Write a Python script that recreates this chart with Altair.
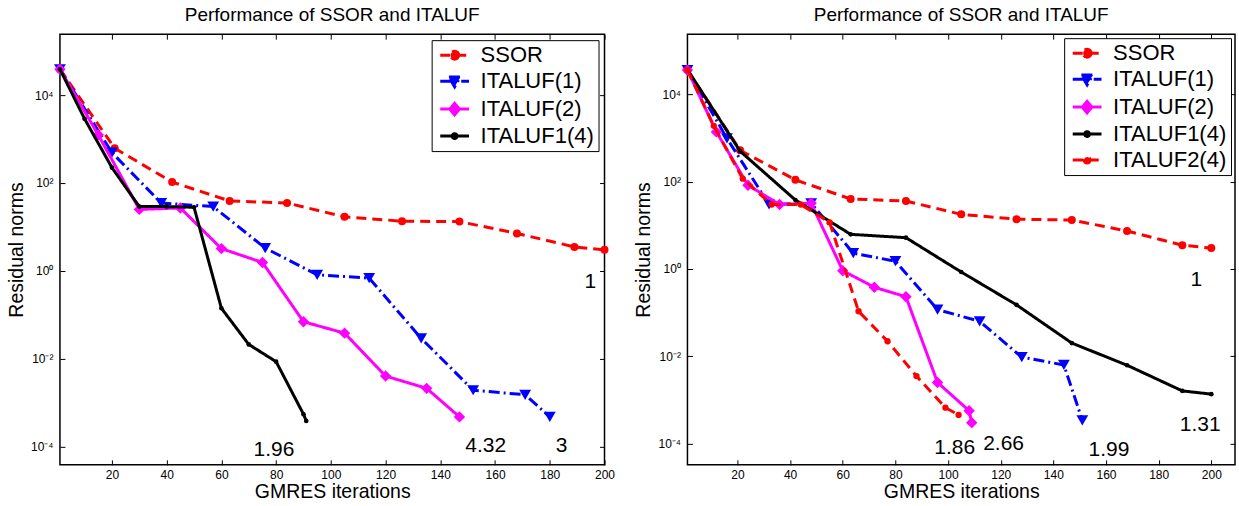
import altair as alt
import pandas as pd

FONT = "Liberation Sans"

# ---------------- data: left panel ----------------
L_names = ["SSOR", "ITALUF(1)", "ITALUF(2)", "ITALUF1(4)"]
L_ssor_x = [1, 21, 42, 63, 84, 105, 126, 147, 168, 189, 200]
L_ssor_y = [3.9e4, 620, 105, 39, 35, 17, 13.5, 13.2, 7.1, 3.5, 3.0]
L_it1_x = [1, 20, 38, 57, 76, 95, 114, 133, 152, 171, 180]
L_it1_y = [3.9e4, 490, 35, 29, 3.3, 0.81, 0.68, 0.029, 0.0019, 0.0015, 4.7e-4]
L_it2_x = [1, 15, 30, 45, 60, 75, 90, 105, 120, 135, 147]
L_it2_y = [3.9e4, 1250, 25, 27, 3.2, 1.55, 0.069, 0.038, 0.0040, 0.0021, 4.7e-4]
L_it14_x = [1, 10, 20, 30, 40, 50, 60, 70, 80, 90, 91]
L_it14_y = [3.9e4, 2900, 224, 29, 29, 28, 0.14, 0.021, 0.0085, 5.4e-4, 3.8e-4]
L_ann_text = ["1", "1.96", "4.32", "3"]
L_ann_x = [194.8, 79.2, 156.6, 184.3]
L_ann_y = [0.56, 8.3e-5, 1.0e-4, 1.0e-4]

# ---------------- data: right panel ----------------
R_names = ["SSOR", "ITALUF(1)", "ITALUF(2)", "ITALUF1(4)", "ITALUF2(4)"]
R_ssor_x = [1, 21, 42, 63, 84, 105, 126, 147, 168, 189, 200]
R_ssor_y = [3.6e4, 525, 110, 40, 36, 17.8, 13.8, 13.2, 7.4, 3.5, 3.0]
R_it1_x = [1, 16, 32, 48, 64, 80, 96, 112, 128, 144, 151]
R_it1_y = [3.6e4, 980, 30, 32, 2.3, 1.5, 0.117, 0.063, 0.0095, 0.0063, 3.4e-4]
R_it2_x = [1, 12, 24, 36, 48, 60, 72, 84, 96, 108, 109]
R_it2_y = [3.6e4, 1380, 83, 30, 32, 0.91, 0.38, 0.23, 0.0025, 5.6e-4, 3.0e-4]
R_it14_x = [1, 21, 42, 63, 84, 105, 126, 147, 168, 189, 200]
R_it14_y = [3.7e4, 500, 38, 6.2, 5.2, 0.85, 0.15, 0.020, 0.0062, 0.0016, 0.00135]
R_it24_x = [1, 11, 22, 33, 44, 55, 66, 77, 88, 99, 104]
R_it24_y = [3.6e4, 1900, 117, 30, 30, 11.7, 0.107, 0.022, 0.0035, 6.6e-4, 4.5e-4]
R_ann_text = ["1", "1.31", "1.99", "2.66", "1.86"]
R_ann_x = [194.3, 195.8, 161.1, 121.1, 102.5]
R_ann_y = [0.56, 2.6e-4, 7.1e-5, 9.5e-5, 7.9e-5]

x_ticks = [20, 40, 60, 80, 100, 120, 140, 160, 180, 200]
y_ticks = [1e-4, 1e-2, 1, 1e2, 1e4]
y_tick_exp = [-4, -2, 0, 2, 4]
y_tick_labels = ["10\u207b\u2074", "10\u207b\u00b2", "10\u2070", "10\u00b2", "10\u2074"]

# ---------------- styles ----------------
COLORS = {"SSOR": "#ff0000", "ITALUF(1)": "#0000ff", "ITALUF(2)": "#ff00ff",
          "ITALUF1(4)": "#000000", "ITALUF2(4)": "#ff0000"}
DASHES = {"SSOR": [10, 6], "ITALUF(1)": [11, 4, 2, 4], "ITALUF(2)": [1, 0],
          "ITALUF1(4)": [1, 0], "ITALUF2(4)": [10, 6]}
SHAPES = {"SSOR": "circle", "ITALUF(1)": "triangle-down", "ITALUF(2)": "diamond",
          "ITALUF1(4)": "circle", "ITALUF2(4)": "circle"}
SIZES = {"SSOR": 64, "ITALUF(1)": 140, "ITALUF(2)": 130, "ITALUF1(4)": 22, "ITALUF2(4)": 40}
LEG_PATHS = {
    "SSOR": "M-2.4,0L2.4,0M0.67,0A0.67,0.67,0,1,1,-0.67,0A0.67,0.67,0,1,1,0.67,0Z",
    "ITALUF(1)": "M-2.4,0L2.4,0M-0.95,-0.7L0.95,-0.7L0,0.95Z",
    "ITALUF(2)": "M-2.4,0L2.4,0M0,-0.95L0.8,0L0,0.95L-0.8,0Z",
    "ITALUF1(4)": "M-2.4,0L2.4,0M0.4,0A0.4,0.4,0,1,1,-0.4,0A0.4,0.4,0,1,1,0.4,0Z",
    "ITALUF2(4)": "M-2.4,0L2.4,0M0.5,0A0.5,0.5,0,1,1,-0.5,0A0.5,0.5,0,1,1,0.5,0Z",
}

ylabel_expr = "''"
for e, lab in zip(y_tick_exp, y_tick_labels):
    ylabel_expr = f"round(log(datum.value)/LN10) == {e} ? '{lab}' : ({ylabel_expr})"


def make_panel(names, xs, ys, x_domain, y_domain, ann_text, ann_x, ann_y, width, height,
               leg_offset):
    rows = []
    for n, xv, yv in zip(names, xs, ys):
        for i, (a, b) in enumerate(zip(xv, yv)):
            rows.append({"series": n, "x": a, "y": b, "order": i})
    df = pd.DataFrame(rows)
    ann = pd.DataFrame({"label": ann_text, "x": ann_x, "y": ann_y})

    xscale = alt.Scale(domain=x_domain, nice=False, zero=False)
    yscale = alt.Scale(type="log", domain=y_domain, nice=False)
    col_scale = alt.Scale(domain=names, range=[COLORS[n] for n in names])
    dash_scale = alt.Scale(domain=names, range=[DASHES[n] for n in names])
    shape_scale = alt.Scale(domain=names, range=[LEG_PATHS[n] for n in names])

    x_bottom = alt.Axis(orient="bottom", values=x_ticks, grid=False, domain=False,
                        tickSize=5, offset=-5, tickColor="black", labelFont=FONT,
                        labelFontSize=12, labelColor="black", labelPadding=5,
                        labelFlush=False, title="GMRES iterations", titleFont=FONT,
                        titleFontSize=19.5, titleFontWeight="normal", titleColor="black",
                        titlePadding=2)
    y_left = alt.Axis(orient="left", values=y_ticks, labelExpr=ylabel_expr, grid=False,
                      domain=False, tickSize=5, offset=-5, tickColor="black",
                      labelFont=FONT, labelFontSize=12, labelColor="black",
                      labelPadding=7, labelFlush=False, title="Residual norms",
                      titleFont=FONT, titleFontSize=19.5, titleFontWeight="normal",
                      titleColor="black", titlePadding=4)
    x_top = alt.Axis(orient="top", values=x_ticks, labels=False, title=None, grid=False,
                     domain=False, tickSize=5, offset=-5, tickColor="black")
    y_right = alt.Axis(orient="right", values=y_ticks, labels=False, title=None, grid=False,
                       domain=False, tickSize=5, offset=-5, tickColor="black")

    legend = alt.Legend(
        title=None, orient="top-right", offset=leg_offset,
        labelFont=FONT, labelFontSize=22, labelColor="black", labelLimit=400,
        symbolSize=144, symbolStrokeWidth=3, symbolOffset=8, labelOffset=15,
        symbolOpacity=1, rowPadding=4, padding=4, strokeColor="black",
        fillColor="white", cornerRadius=0,
    )

    base = alt.Chart(df)
    layers = []
    first = True
    for n in names:
        sub = base.transform_filter(alt.datum.series == n)
        layers.append(
            sub.mark_line(strokeWidth=3, color=COLORS[n], strokeDash=DASHES[n]).encode(
                x=alt.X("x:Q", scale=xscale, axis=x_bottom if first else None),
                y=alt.Y("y:Q", scale=yscale, axis=y_left if first else None),
                order="order:Q",
            )
        )
        first = False
        layers.append(
            sub.mark_point(filled=True, opacity=1, shape=SHAPES[n], size=SIZES[n],
                           color=COLORS[n])
            .encode(x=alt.X("x:Q", scale=xscale, axis=None),
                    y=alt.Y("y:Q", scale=yscale, axis=None))
        )
    # legend driver (draws nothing: filtered to empty)
    leg = base.transform_filter(alt.datum.x < 0).mark_point().encode(
        x=alt.X("x:Q", scale=xscale, axis=None),
        y=alt.Y("y:Q", scale=yscale, axis=None),
        fill=alt.Fill("series:N", scale=col_scale, legend=legend),
        stroke=alt.Stroke("series:N", scale=col_scale, legend=legend),
        shape=alt.Shape("series:N", scale=shape_scale, legend=legend),
        strokeDash=alt.StrokeDash("series:N", scale=dash_scale, legend=legend),
    )
    text = alt.Chart(ann).mark_text(font=FONT, fontSize=21, align="center", baseline="middle",
                                    color="black").encode(
        x=alt.X("x:Q", scale=xscale, axis=x_top),
        y=alt.Y("y:Q", scale=yscale, axis=y_right),
        text="label:N",
    )
    return alt.layer(*layers, leg, text).properties(
        width=width, height=height,
        view=alt.ViewBackground(stroke="black", strokeWidth=1.5, fill="white"),
        title=alt.Title("Performance of SSOR and ITALUF", font=FONT, fontSize=19,
                        fontWeight="normal", color="black", anchor="middle", offset=9),
    )


left = make_panel(L_names, [L_ssor_x, L_it1_x, L_it2_x, L_it14_x],
                  [L_ssor_y, L_it1_y, L_it2_y, L_it14_y],
                  [1, 200], [10 ** -4.42, 10 ** 5.39], L_ann_text, L_ann_x, L_ann_y, 545, 431, 6)
right = make_panel(R_names, [R_ssor_x, R_it1_x, R_it2_x, R_it14_x, R_it24_x],
                   [R_ssor_y, R_it1_y, R_it2_y, R_it14_y, R_it24_y],
                   [1, 209], [10 ** -4.49, 10 ** 5.38], R_ann_text, R_ann_x, R_ann_y, 548, 431, 4)

chart = alt.hconcat(left, right, spacing=83, bounds="flush").resolve_scale(
    fill="independent", stroke="independent", shape="independent",
    strokeDash="independent"
).configure_view(stroke="black", strokeWidth=1.5).properties(
    padding={"left": 5, "top": 4, "right": 2, "bottom": 2},
    background="white",
)

chart.save("out.html", embed_options={"renderer": "svg", "actions": False})
